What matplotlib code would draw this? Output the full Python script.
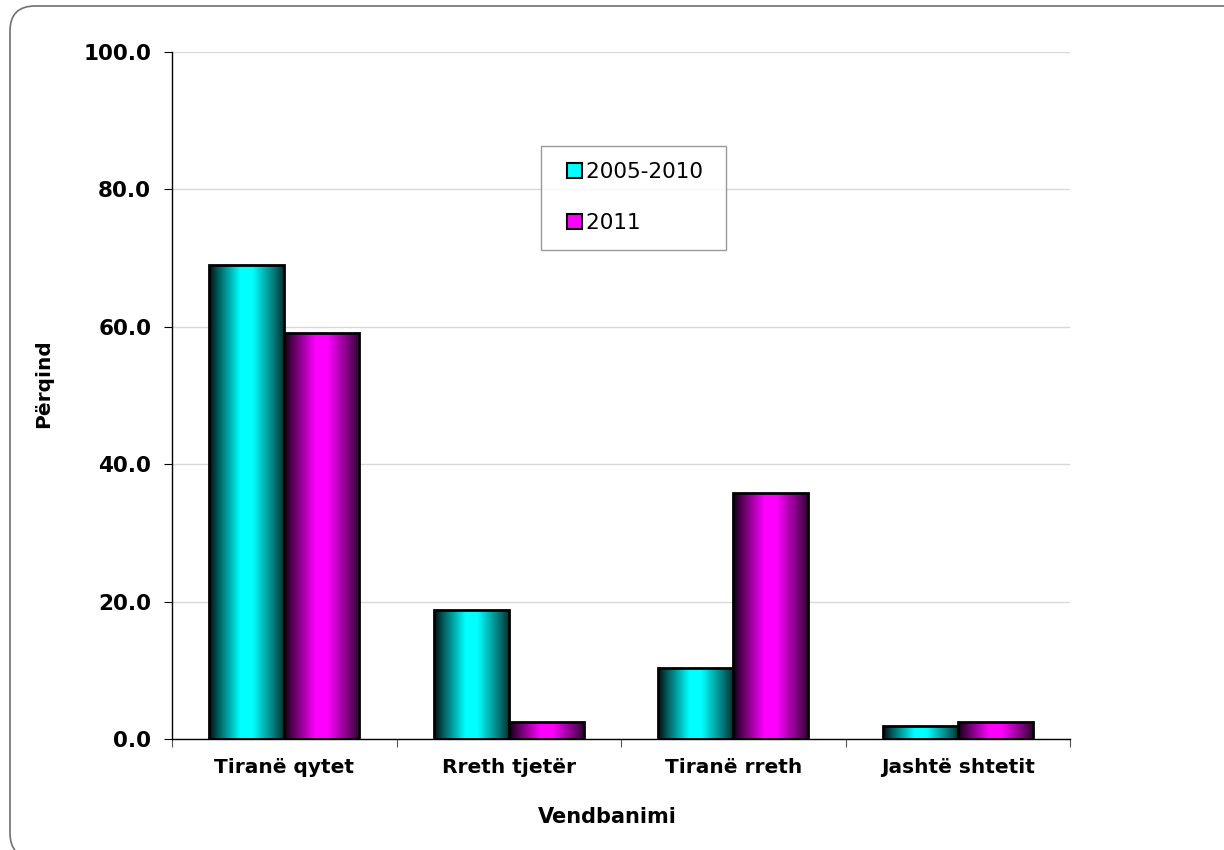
import numpy as np
import matplotlib
matplotlib.use("Agg")
import matplotlib.pyplot as plt
from matplotlib.patches import FancyBboxPatch, Patch, Rectangle
from matplotlib.transforms import IdentityTransform
from matplotlib.legend_handler import HandlerPatch

categories = ['Tiranë qytet', 'Rreth tjetër', 'Tiranë rreth', 'Jashtë shtetit']
series_names = ['2005-2010', '2011']
values_2005_2010 = [69.0, 18.8, 10.3, 1.9]
values_2011 = [59.1, 2.5, 35.8, 2.5]
y_ticks = [0, 20, 40, 60, 80, 100]

colors = ['#00FFFF', '#FF00FF']

plt.rcParams['font.family'] = ['DejaVu Sans']

fig = plt.figure(figsize=(12.24, 8.5), dpi=100)
fig.patch.set_facecolor('white')
ax = fig.add_axes([172/1224, 1 - 739/850, (1070-172)/1224, (739-52)/850])

x = np.arange(len(categories))
w = 1/3
bars_a = ax.bar(x - w/2, values_2005_2010, width=w, facecolor='none',
                edgecolor='black', linewidth=2.0, zorder=3)
bars_b = ax.bar(x + w/2, values_2011, width=w, facecolor='none',
                edgecolor='black', linewidth=2.0, zorder=3)

# horizontal shading gradient for cylinder-like bars
t = np.linspace(0, 1, 256)
shade = np.interp(t, [0, 0.12, 0.42, 0.58, 0.88, 1], [0.05, 0.35, 1.0, 1.0, 0.45, 0.2])

def grad_img(hexcol):
    rgb = np.array(matplotlib.colors.to_rgb(hexcol))
    return shade[None, :, None] * rgb[None, None, :]

for bars, col in [(bars_a, colors[0]), (bars_b, colors[1])]:
    img = grad_img(col)
    for b in bars:
        x0, y0 = b.get_x(), b.get_y()
        bw, bh = b.get_width(), b.get_height()
        im = ax.imshow(img, extent=[x0, x0 + bw, y0, y0 + bh], aspect='auto',
                       zorder=2, interpolation='bilinear')
        im.set_clip_path(b)

ax.set_xlim(-0.5, len(categories) - 0.5)
ax.set_ylim(0, 100)
ax.set_yticks(y_ticks)
ax.set_yticklabels([f"{v:.1f}" for v in y_ticks])
ax.set_xticks(x)
ax.set_xticklabels(categories)
ax.set_xticks(np.arange(-0.5, len(categories)), minor=True)
ax.tick_params(axis='x', which='major', length=0, pad=14, labelsize=14.5)
ax.tick_params(axis='x', which='minor', length=6, width=0.8, direction='out', color='#555555')
ax.tick_params(axis='y', which='major', length=6, width=0.8, direction='out', pad=9, labelsize=15.5)
for lab in ax.get_xticklabels() + ax.get_yticklabels():
    lab.set_fontweight('bold')

ax.grid(axis='y', color='#d9d9d9', linewidth=1.0, zorder=0)
ax.set_axisbelow(True)
for s in ['top', 'right']:
    ax.spines[s].set_visible(False)
ax.spines['left'].set_linewidth(1.0)
ax.spines['bottom'].set_linewidth(1.0)

ax.set_xlabel('Vendbanimi', fontsize=15, fontweight='bold')
ax.xaxis.set_label_coords((607-172)/898, (739-807)/687)
ax.set_ylabel('Përqind', fontsize=14.5, fontweight='bold')
ax.yaxis.set_label_coords((53-172)/898, (739-384)/687)


class SquareHandler(HandlerPatch):
    def create_artists(self, legend, orig_handle, xdescent, ydescent, width,
                       height, fontsize, trans):
        side = 11.0
        r = Rectangle((width - side - xdescent, (height - side) / 2 - ydescent), side, side,
                      facecolor=orig_handle.get_facecolor(), edgecolor='black',
                      linewidth=1.5, transform=trans)
        return [r]


handles = [Patch(facecolor=colors[0], edgecolor='black'),
           Patch(facecolor=colors[1], edgecolor='black')]
leg = ax.legend(handles, series_names, loc='upper left',
                bbox_to_anchor=((541-172)/898, (739-146)/687),
                fontsize=15.5, frameon=True, fancybox=False,
                handlelength=1.16, handleheight=0.7, handletextpad=0.2,
                labelspacing=1.45, borderpad=0.75, borderaxespad=0,
                handler_map={Patch: SquareHandler()})
# pad right side of the legend box
for txt in leg.get_texts():
    txt.set_text(txt.get_text() + ' ')
leg.get_frame().set_edgecolor('#808080')
leg.get_frame().set_linewidth(1.0)
leg.set_zorder(5)

border = FancyBboxPatch((10, -8), 1240, 852, boxstyle="round,pad=0,rounding_size=25",
                        transform=IdentityTransform(), facecolor='none',
                        edgecolor='#707070', linewidth=1.2)
fig.add_artist(border)

fig.savefig('out.png', dpi=100)
